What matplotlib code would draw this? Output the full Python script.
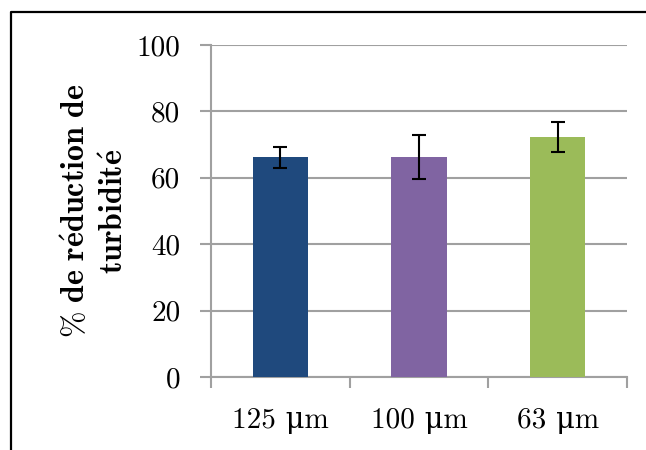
import matplotlib
matplotlib.use("Agg")
import matplotlib.pyplot as plt
from matplotlib.lines import Line2D

plt.rcParams['font.family'] = ['cmr10', 'DejaVu Serif']
plt.rcParams['mathtext.fontset'] = 'cm'
plt.rcParams['axes.formatter.use_mathtext'] = True

categories = ['125 µm', '100 µm', '63 µm']
values = [66.2, 66.2, 72.3]
errors = [3.1, 6.7, 4.4]
colors = ['#1F497D', '#8064A2', '#9BBB59']
yticks = [0, 20, 40, 60, 80, 100]
ylabel = '% de réduction de\nturbidité'


def en_math(txt, style='mathbf'):
    # chaque ligne en mathtext (police Computer Modern)
    lignes = []
    for l in txt.split('\n'):
        l = l.replace('%', r'\%').replace('é', r'\acute{e}').replace(' ', r'\ ')
        lignes.append('$\\' + style + '{' + l + '}$')
    return '\n'.join(lignes)


fig = plt.figure(figsize=(6.46, 4.5), dpi=100)
ax = fig.add_axes([211 / 646, 73 / 450, 416 / 646, 332 / 450])

x = list(range(len(categories)))
ax.bar(x, values, width=0.4, color=colors, zorder=3)
ax.errorbar(x, values, yerr=errors, fmt='none', ecolor='black',
            elinewidth=1.5, capsize=5, capthick=1.5, zorder=4)

ax.set_xlim(-0.5, len(categories) - 0.5)
ax.set_ylim(0, 100)
ax.set_yticks(yticks)
ax.set_yticklabels([str(v) for v in yticks])
ax.yaxis.grid(True, color='#A0A0A0', linewidth=1.5, zorder=0)
ax.set_axisbelow(True)

# le signe micro de cmr10 est faux : on passe par le mu grec (DejaVu Serif)
ax.set_xticks(x)
ax.set_xticklabels([c.replace('µ', 'μ') for c in categories])
ax.set_xticks([i - 0.5 for i in range(len(categories) + 1)], minor=True)
ax.tick_params(axis='x', which='major', length=0, pad=22, labelsize=21)
ax.tick_params(axis='x', which='minor', length=8, width=1.5, color='#A0A0A0')
ax.tick_params(axis='y', length=8, width=1.5, color='#A0A0A0', pad=14, labelsize=21)

for s in ['top', 'right']:
    ax.spines[s].set_visible(False)
for s in ['left', 'bottom']:
    ax.spines[s].set_color('#A0A0A0')
    ax.spines[s].set_linewidth(1.5)

fig.text(95 / 646, 1 - 211 / 450, en_math(ylabel), rotation=90,
         ha='center', va='center', multialignment='center', fontsize=23,
         linespacing=1.4)

# cadre de la figure (haut et gauche)
fig.add_artist(Line2D([11 / 646, 11 / 646, 1], [0, 1 - 12 / 450, 1 - 12 / 450],
                      transform=fig.transFigure, color='black', linewidth=1.6))

fig.savefig('out.png', dpi=100)
